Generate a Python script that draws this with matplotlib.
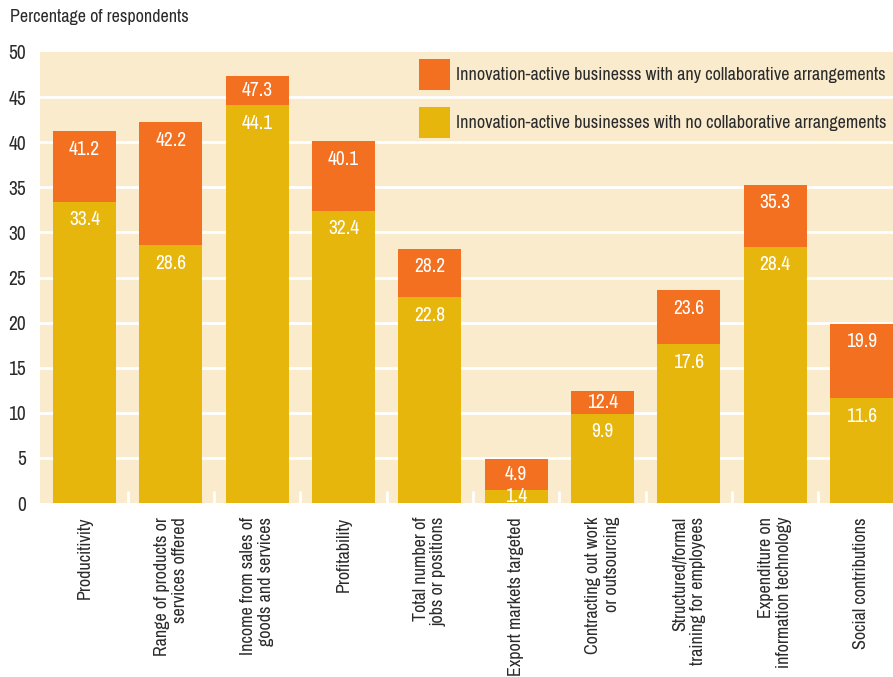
import numpy as np
import matplotlib.pyplot as plt

plt.rcParams['font.family'] = ['Archivo Narrow', 'DejaVu Sans']

categories = ['Producitivity', 'Range of products or\nservices offered',
              'Income from sales of\ngoods and services', 'Profitability',
              'Total number of\njobs or positions', 'Export markets targeted',
              'Contracting out work\nor outsourcing', 'Structured/formal\ntraining for employees',
              'Expenditure on\ninformation technology', 'Social contributions']
collab = [41.2, 42.2, 47.3, 40.1, 28.2, 4.9, 12.4, 23.6, 35.3, 19.9]
no_collab = [33.4, 28.6, 44.1, 32.4, 22.8, 1.4, 9.9, 17.6, 28.4, 11.6]
yticks = list(range(0, 51, 5))

ORANGE = '#F37021'
YELLOW = '#E6B60D'
BEIGE = '#FAEBCD'
TEXT = '#2b2b2b'

fig = plt.figure(figsize=(8.93, 6.77), dpi=100)
ax = fig.add_axes([0.0448, 0.257, 0.9552, 0.6662])
ax.set_facecolor(BEIGE)

x = np.arange(len(categories))
w = 0.73

# white gridlines and small separators between the categories
for v in yticks[1:-1]:
    ax.axhline(v, color='white', lw=2, zorder=1)
for s in x[:-1] + 0.5:
    ax.plot([s, s], [0, 1.3], color='white', lw=2, zorder=1, solid_capstyle='butt')

ax.bar(x, collab, w, color=ORANGE, zorder=2,
       label='Innovation-active businesss with any collaborative arrangements')
ax.bar(x, no_collab, w, color=YELLOW, zorder=3,
       label='Innovation-active businesses with no collaborative arrangements')


def label_y(top, base):
    # near the top of the segment, or centred when the segment is short
    return max(top - 2.0, (top + base) / 2)


for xi, a, b in zip(x, collab, no_collab):
    ax.text(xi, label_y(a, b), f'{a}', ha='center', va='center', color='white',
            fontsize=14, zorder=4, clip_on=True)
    ax.text(xi, label_y(b, 0), f'{b}', ha='center', va='center', color='white',
            fontsize=14, zorder=4, clip_on=True)

ax.set_xlim(-0.515, 9.365)
ax.set_ylim(0, 50)
ax.set_yticks(yticks)
ax.set_yticklabels([str(v) for v in yticks], fontsize=14, color=TEXT)
ax.set_xticks(x)
ax.set_xticklabels(categories, rotation=90, fontsize=13, color=TEXT,
                   multialignment='right', va='top', ha='center')
ax.tick_params(length=0, pad=10)
for sp in ax.spines.values():
    sp.set_visible(False)

leg = ax.legend(loc='upper right', bbox_to_anchor=(0.992, 0.985), frameon=False, fontsize=13,
                borderaxespad=0, borderpad=0, handlelength=1.72, handleheight=2.26,
                labelspacing=0.94, handletextpad=0.33)
for t in leg.get_texts():
    t.set_color(TEXT)

fig.text(0.011, 0.975, 'Percentage of respondents', fontsize=13, color=TEXT, va='center')

fig.savefig('out.png', dpi=100)
